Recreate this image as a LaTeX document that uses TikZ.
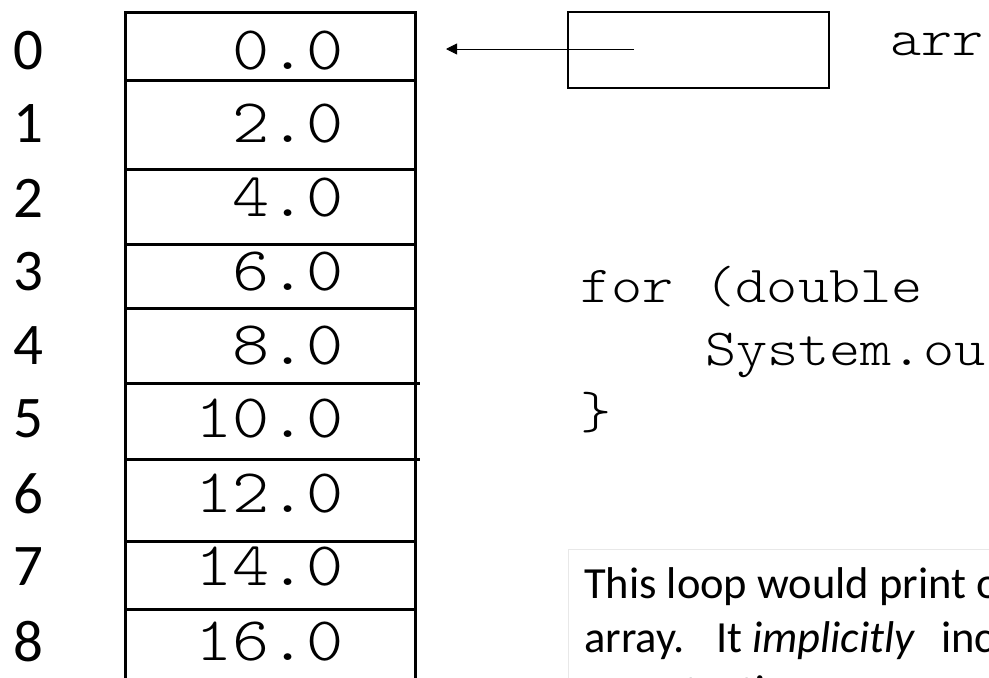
\documentclass[tikz,border=0pt]{standalone}
\usepackage{fontspec}
\newfontfamily\courfont{Latin Modern Mono Light}[FakeStretch=1.14]
\newfontfamily\calibri{Carlito}
\usetikzlibrary{arrows.meta}

\begin{document}
\begin{tikzpicture}[x=1pt,y=-1pt,
  grid/.style={line width=3pt, line cap=rect},
  idx/.style={font=\calibri\fontsize{59}{59}\selectfont, inner sep=0pt},
  val/.style={font=\courfont\fontsize{62}{62}\selectfont, inner sep=0pt, anchor=east},
  code/.style={font=\courfont\fontsize{52}{52}\selectfont, inner sep=0pt, anchor=base west},
  note/.style={font=\calibri\fontsize{44.5}{53}\selectfont, inner sep=0pt, anchor=base west},
]
\useasboundingbox (0,0) rectangle (989,678);
\clip (0,0) rectangle (989,678);
\fill[white] (0,0) rectangle (989,678);

% array cells
\draw[grid] (125,12) -- (125,700);
\draw[grid] (415,12) -- (415,700);
\foreach \y in {12,80,169,244,308,541,609} \draw[grid] (125,\y) -- (415,\y);
\foreach \y in {383,459} \draw[grid] (125,\y) -- (418,\y);

% indices and stored values
\foreach \y/\v/\i in {51/0.0/0,124/2.0/1,198/4.0/2,272/6.0/3,346/8.0/4,
                      419/10.0/5,494/12.0/6,567/14.0/7,642/16.0/8} {
  \node[idx] (i\i) at (28,\y) {\i};
  \node[val] (v\i) at (344,\y) {\v};
}

% reference variable
\node[draw, line width=1.8pt, minimum width=261pt, minimum height=76pt,
      inner sep=0pt, anchor=north west] (ptr) at (567,11) {};
\node[code] (arrname) at (890,55) {arr};
\coordinate (ptrtail) at (634,49);
\coordinate (cellzero) at (446,49);
\draw[line width=0.9pt, -{Triangle[length=11pt,width=11pt]}] (ptrtail) -- (cellzero);

% loop code
\node[code] (forline) at (580,302) {for (double};
\node[code] (sysline) at (705,365) {System.ou};
\node[code] (closeline) at (580,428) {\}};

% note box
\node[draw=gray!18, line width=1pt, minimum width=500pt, minimum height=200pt,
      inner sep=0pt, anchor=north west] (notebox) at (568,549) {};
\node[note] (note1) at (584,598) {This loop would print o};
\node[note] (note2a) at (584,652) {array.};
\node[note] (note2b) at (716,652) {It};
\node[note] (note2c) at (752,652) {\textit{implicitly}};
\node[note] (note2d) at (941,652) {inc};
\node[note] (note3) at (584,706) {one at a time};
\end{tikzpicture}
\end{document}
